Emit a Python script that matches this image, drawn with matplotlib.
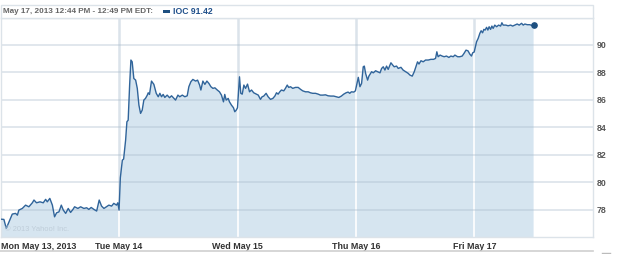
import matplotlib
matplotlib.use('Agg')
import matplotlib.pyplot as plt
from matplotlib.patches import Rectangle
from matplotlib.lines import Line2D

# IOC intraday prices, May 13-17 2013 (times in hours, prices in USD)
mon_hours = [9.50, 9.68, 9.81, 9.96, 10.14, 10.32, 10.42, 10.50, 10.69, 10.87, 11.05, 11.24,
             11.33, 11.47, 11.66, 11.84, 11.97, 12.06, 12.20, 12.34, 12.46, 12.57, 12.70, 12.83,
             12.94, 13.07, 13.21, 13.34, 13.47, 13.56, 13.74, 13.89, 14.07, 14.22, 14.34, 14.47,
             14.62, 14.77, 14.91, 15.04, 15.17, 15.31, 15.44, 15.59, 15.71, 15.86, 15.93, 16.00]
mon_prices = [77.32, 77.30, 76.65, 77.13, 77.69, 77.74, 77.61, 77.98, 78.10, 78.34, 78.22, 78.51,
              78.71, 78.51, 78.58, 78.51, 78.76, 78.58, 78.83, 78.34, 77.49, 77.78, 77.85, 78.34,
              77.98, 77.74, 78.10, 77.81, 78.03, 78.22, 78.10, 78.22, 78.10, 78.15, 78.03, 78.17,
              78.03, 77.91, 78.71, 78.27, 78.10, 78.22, 78.34, 78.27, 78.47, 78.34, 78.51, 77.98]

tue_hours = [9.57, 9.68, 9.75, 9.86, 9.93, 10.00, 10.08, 10.15, 10.22, 10.31, 10.41, 10.50,
             10.59, 10.68, 10.77, 10.86, 10.95, 11.05, 11.10, 11.17, 11.28, 11.41, 11.54, 11.65,
             11.74, 11.83, 11.92, 12.01, 12.14, 12.27, 12.38, 12.51, 12.60, 12.73, 12.83, 12.97,
             13.11, 13.24, 13.33, 13.44, 13.55, 13.70, 13.81, 13.92, 13.99, 14.10, 14.21, 14.32,
             14.43, 14.54, 14.65, 14.76, 14.89, 15.01, 15.12, 15.23, 15.30, 15.38, 15.49, 15.56,
             15.67, 15.78, 15.85, 15.93, 16.00]
tue_prices = [80.33, 81.61, 81.69, 83.07, 84.40, 84.52, 87.07, 88.89, 88.76, 87.55, 87.43, 86.83,
              85.61, 85.01, 85.25, 85.98, 86.10, 86.34, 86.51, 86.39, 87.36, 87.12, 86.47, 86.22,
              86.47, 86.22, 86.39, 86.17, 86.34, 86.15, 86.29, 86.10, 85.98, 86.34, 86.22, 86.34,
              86.22, 86.29, 86.95, 87.31, 87.48, 87.36, 87.43, 87.07, 86.71, 87.36, 87.12, 87.36,
              87.19, 86.95, 86.83, 86.87, 86.71, 86.58, 86.34, 85.85, 86.39, 85.98, 86.10, 85.85,
              85.61, 85.42, 85.13, 85.25, 85.42]

wed_hours = [9.61, 9.68, 9.76, 9.85, 9.94, 10.05, 10.16, 10.27, 10.39, 10.53, 10.64, 10.76,
             10.85, 10.94, 11.07, 11.18, 11.31, 11.44, 11.55, 11.64, 11.73, 11.82, 11.91, 12.04,
             12.13, 12.23, 12.31, 12.41, 12.53, 12.68, 12.83, 12.96, 13.08, 13.23, 13.38, 13.50,
             13.63, 13.78, 13.93, 14.05, 14.18, 14.33, 14.47, 14.62, 14.78, 14.91, 15.06, 15.20,
             15.33, 15.46, 15.57, 15.66, 15.75, 15.88, 15.97]
wed_prices = [87.67, 86.47, 86.41, 87.07, 86.83, 87.14, 86.58, 86.71, 86.51, 86.41, 86.34, 86.03,
              86.22, 86.27, 86.47, 86.22, 86.03, 86.10, 86.27, 86.51, 86.41, 86.58, 86.71, 86.65,
              86.83, 87.07, 86.90, 86.95, 86.83, 86.90, 86.90, 86.76, 86.65, 86.58, 86.58, 86.51,
              86.47, 86.47, 86.41, 86.34, 86.34, 86.36, 86.29, 86.27, 86.27, 86.22, 86.17, 86.27,
              86.41, 86.51, 86.56, 86.47, 86.58, 86.56, 86.65]

thu_hours = [9.63, 9.72, 9.81, 9.90, 9.96, 10.03, 10.14, 10.21, 10.36, 10.45, 10.58, 10.69,
             10.82, 10.91, 11.00, 11.09, 11.18, 11.27, 11.42, 11.52, 11.60, 11.73, 11.82, 11.97,
             12.09, 12.23, 12.37, 12.46, 12.59, 12.70, 12.79, 12.88, 12.96, 13.07, 13.19, 13.32,
             13.47, 13.61, 13.76, 13.87, 13.94, 14.01, 14.12, 14.23, 14.34, 14.47, 14.60, 14.71,
             14.84, 14.93, 15.08, 15.20, 15.33, 15.43, 15.54, 15.65, 15.75, 15.84, 15.91, 15.99]
thu_prices = [87.63, 86.95, 87.19, 88.40, 88.45, 87.92, 87.43, 87.72, 88.04, 87.96, 88.11, 88.04,
              87.96, 88.28, 88.40, 88.16, 88.45, 88.21, 88.69, 88.52, 88.40, 88.45, 88.28, 88.36,
              88.16, 88.04, 87.92, 87.80, 87.72, 88.04, 88.40, 88.76, 88.60, 88.84, 88.76, 88.89,
              88.89, 88.94, 88.94, 89.01, 89.49, 89.13, 89.25, 89.18, 89.13, 89.18, 89.08, 89.18,
              89.13, 89.25, 89.13, 89.13, 89.18, 89.37, 89.61, 89.56, 89.32, 89.18, 89.42, 89.47]

fri_hours = [9.62, 9.71, 9.80, 9.87, 9.95, 10.02, 10.09, 10.17, 10.24, 10.31, 10.39, 10.46,
             10.53, 10.62, 10.72, 10.83, 10.94, 11.01, 11.08, 11.23, 11.35, 11.49, 11.60, 11.72,
             11.85, 11.96, 12.09, 12.18, 12.27, 12.40, 12.54, 12.65, 12.75]
fri_prices = [90.22, 90.47, 90.83, 91.02, 90.87, 91.12, 91.07, 91.27, 91.07, 91.31, 91.12, 91.36,
              91.19, 91.43, 91.31, 91.43, 91.36, 91.60, 91.43, 91.43, 91.38, 91.43, 91.36, 91.43,
              91.51, 91.43, 91.56, 91.43, 91.51, 91.46, 91.46, 91.41, 91.42]

day_labels = ['Mon May 13, 2013', 'Tue May 14', 'Wed May 15', 'Thu May 16', 'Fri May 17']
y_ticks = [78, 80, 82, 84, 86, 88, 90]

# put the five sessions side by side, one unit per trading day
days = [(mon_hours, mon_prices), (tue_hours, tue_prices), (wed_hours, wed_prices),
        (thu_hours, thu_prices), (fri_hours, fri_prices)]
xs, ys = [], []
for i, (hrs, prc) in enumerate(days):
    xs += [i + (h - 9.5) / 6.5 for h in hrs]
    ys += prc

fig = plt.figure(figsize=(6.25, 2.54), dpi=100)
ax = fig.add_axes([0.001, 0.0657, 0.9475, 0.862])

# day separators: grey on white, white inside the shaded area
for d in range(1, 5):
    ax.axvline(d, color='#dbe3ea', lw=1.8, zorder=0.5)
poly = ax.fill_between(xs, ys, 70, color='#d6e5f0', lw=0, zorder=1)
for d in range(1, 5):
    wl = ax.axvline(d, color='white', lw=1.2, zorder=2)
    wl.set_clip_path(poly.get_paths()[0], ax.transData)
for v in y_ticks:
    ax.axhline(v, color='#a9bccb', alpha=0.38, lw=1.3, zorder=2)
ax.plot(xs, ys, color='#30649a', lw=1.0, zorder=3)
ax.plot(xs[-1], ys[-1], 'o', color='#1d4f80', ms=3.8, zorder=4)

ax.set_xlim(0, 5)
ax.set_ylim(76, 91.92)
ax.yaxis.tick_right()
ax.set_yticks(y_ticks)
ax.set_yticklabels([str(v) for v in y_ticks], fontsize=6.3, fontweight='bold',
                   color='#555555', family='Liberation Sans')
ax.set_xticks(range(5))
ax.set_xticklabels(day_labels, fontsize=6.4, fontweight='bold', color='#333333',
                   family='Liberation Sans')
ax.get_xticklabels()[0].set_ha('left')
ax.tick_params(length=0)
ax.tick_params(axis='y', pad=3)
ax.tick_params(axis='x', pad=3.5)
for s in ax.spines.values():
    s.set_color('#dce3e9')
    s.set_linewidth(1)

ax.text(0.007, 0.03, '\u00a9 2013 Yahoo! Inc.', transform=ax.transAxes, fontsize=5.4,
        color='#bfcdd9', family='Liberation Sans', zorder=5)

# header strip
fig.patches.append(Rectangle((0.001, 0.928), 0.9475, 0.054, transform=fig.transFigure,
                             facecolor='white', edgecolor='#dce3e9', lw=1))
fig.text(0.005, 0.955, 'May 17, 2013 12:44 PM - 12:49 PM EDT:', fontsize=5.9,
         fontweight='bold', color='#666666', family='Liberation Sans', va='center')
fig.patches.append(Rectangle((163 / 625, 0.950), 7 / 625, 3 / 254, transform=fig.transFigure,
                             facecolor='#1d4f80', lw=0))
fig.text(173 / 625, 0.955, 'IOC 91.42', fontsize=6.2, fontweight='bold', color='#1f4f8a',
         family='Liberation Sans', va='center')

# bottom rule
fig.lines.append(Line2D([0, 0.9488], [0.012, 0.012], transform=fig.transFigure,
                        color='#cfcfcf', lw=1.2))
fig.lines.append(Line2D([602 / 625, 610 / 625], [0.005, 0.005], transform=fig.transFigure,
                        color='#bbbbbb', lw=1))

fig.savefig('out.png', dpi=100)
